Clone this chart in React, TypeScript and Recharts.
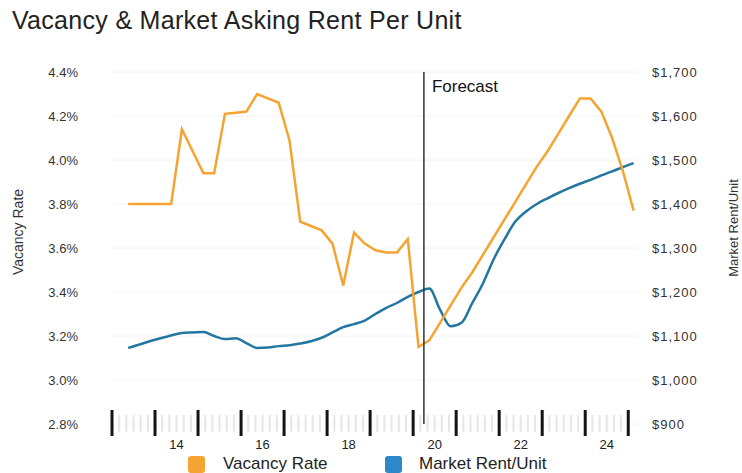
import React from "react";
import { LineChart, Line, XAxis, YAxis, CartesianGrid, ReferenceLine } from "recharts";

// quarterly series, 2013 Q2 .. 2025 Q1
const quarters = [
  "2013 Q2", "2013 Q3", "2013 Q4", "2014 Q1", "2014 Q2", "2014 Q3", "2014 Q4",
  "2015 Q1", "2015 Q2", "2015 Q3", "2015 Q4", "2016 Q1", "2016 Q2", "2016 Q3", "2016 Q4",
  "2017 Q1", "2017 Q2", "2017 Q3", "2017 Q4", "2018 Q1", "2018 Q2", "2018 Q3", "2018 Q4",
  "2019 Q1", "2019 Q2", "2019 Q3", "2019 Q4", "2020 Q1", "2020 Q2", "2020 Q3", "2020 Q4",
  "2021 Q1", "2021 Q2", "2021 Q3", "2021 Q4", "2022 Q1", "2022 Q2", "2022 Q3", "2022 Q4",
  "2023 Q1", "2023 Q2", "2023 Q3", "2023 Q4", "2024 Q1", "2024 Q2", "2024 Q3", "2024 Q4",
  "2025 Q1",
];

const vacancyRate = [
  3.8, 3.8, 3.8, 3.8, 3.8, 4.14, 4.04, 3.94, 3.94, 4.21, 4.215, 4.22,
  4.3, 4.28, 4.26, 4.09, 3.72, 3.7, 3.68, 3.62, 3.43, 3.67, 3.62, 3.59,
  3.58, 3.58, 3.64, 3.15, 3.18, 3.26, 3.34, 3.42, 3.49, 3.57, 3.65, 3.73,
  3.81, 3.89, 3.97, 4.04, 4.12, 4.2, 4.28, 4.28, 4.22, 4.1, 3.95, 3.77,
];

const rentPerUnit = [
  1073, 1080, 1088, 1095, 1101, 1107, 1108, 1109, 1100, 1093, 1095, 1084,
  1073, 1074, 1077, 1079, 1083, 1088, 1096, 1108, 1120, 1127, 1135, 1150,
  1164, 1175, 1189, 1200, 1208, 1160, 1122, 1130, 1175, 1220, 1275, 1320,
  1360, 1383, 1400, 1413, 1425, 1436, 1446, 1455, 1465, 1474, 1484, 1493,
];

const vacancyTicks = [2.8, 3.0, 3.2, 3.4, 3.6, 3.8, 4.0, 4.2, 4.4];
const rentTicks = [900, 1000, 1100, 1200, 1300, 1400, 1500, 1600, 1700];
const yearLabels = ["14", "16", "18", "20", "22", "24"];
const lastActual = "2020 Q1";

const series = [
  { name: "Vacancy Rate", color: "#F5A431" },
  { name: "Market Rent/Unit", color: "#2C88C6" },
];

const quarterTime = (q: string) => {
  const [y, qq] = q.split(" Q");
  return Number(y) + (Number(qq) - 1) * 0.25 + 0.125;
};

const data = quarters.map((q, i) => ({
  t: quarterTime(q),
  vacancy: vacancyRate[i],
  rent: rentPerUnit[i],
}));

const forecastX = quarterTime(lastActual) + 0.125;
const xTicks = Array.from({ length: 73 }, (_, i) => 2013 + i / 6);
const labelAt = yearLabels.map((l) => 2000 + Number(l) + 0.5);

const font = '"Liberation Sans", Arial, Helvetica, sans-serif';

function YearTick(props: any) {
  const { x, y, payload } = props;
  const v = payload.value;
  const major = Math.abs(v - Math.round(v)) < 1e-6;
  const li = labelAt.findIndex((p) => Math.abs(p - v) < 1e-6);
  return (
    <g>
      {major ? (
        <rect x={x - 1.5} y={y - 14} width={3} height={26} fill="#141414" />
      ) : (
        <rect x={x - 1} y={y - 9} width={2} height={17} fill="#e6e6e6" />
      )}
      {li >= 0 && (
        <text x={x} y={y + 25} textAnchor="middle" fontSize={13} fill="#222" fontFamily={font}>
          {yearLabels[li]}
        </text>
      )}
    </g>
  );
}

export default function App() {
  return (
    <div style={{ position: "absolute", left: 0, top: 0, width: 742, height: 473, background: "#fff", fontFamily: font }}>
      <div style={{ position: "absolute", left: 12, top: 8, fontSize: 25, lineHeight: "24px", color: "#222", whiteSpace: "nowrap", letterSpacing: 0.3 }}>
        Vacancy &amp; Market Asking Rent Per Unit
      </div>
      <LineChart width={742} height={473} data={data} margin={{ top: 72, right: 0, bottom: 0, left: 0 }}>
        <CartesianGrid vertical={false} yAxisId="v" stroke="#f4f4f4" />
        <XAxis
          dataKey="t"
          type="number"
          domain={[2013, 2025.25]}
          ticks={xTicks}
          interval={0}
          tick={YearTick}
          axisLine={false}
          tickLine={false}
          tickSize={0}
          tickMargin={0}
          height={49}
        />
        <YAxis
          yAxisId="v"
          domain={[2.8, 4.4]}
          ticks={vacancyTicks}
          tickFormatter={(v: number) => v.toFixed(1) + "%"}
          axisLine={false}
          tickLine={false}
          tickSize={0}
          tickMargin={34}
          width={112}
          tick={{ fontSize: 13, fill: "#333", fontFamily: font }}
        />
        <YAxis
          yAxisId="r"
          orientation="right"
          domain={[900, 1700]}
          ticks={rentTicks}
          tickFormatter={(v: number) => "$" + v.toLocaleString("en-US")}
          axisLine={false}
          tickLine={false}
          tickSize={0}
          tickMargin={13}
          width={103}
          tick={{ fontSize: 13, fill: "#333", fontFamily: font, letterSpacing: 1 }}
        />
        <Line yAxisId="r" dataKey="rent" type="monotone" stroke="#23769F" strokeWidth={2.5} dot={false} isAnimationActive={false} />
        <Line yAxisId="v" dataKey="vacancy" type="linear" stroke="#F5A431" strokeWidth={2.5} dot={false} isAnimationActive={false} />
        <ReferenceLine
          yAxisId="v"
          x={forecastX}
          stroke="#333"
          strokeWidth={1.5}
          label={{ value: "Forecast", position: "insideTopLeft", offset: 8, fill: "#111", fontSize: 17, fontFamily: font }}
        />
      </LineChart>
      <div style={{ position: "absolute", left: 18, top: 232, transform: "translate(-50%, -50%) rotate(-90deg)", fontSize: 14, color: "#333", whiteSpace: "nowrap" }}>
        Vacancy Rate
      </div>
      <div style={{ position: "absolute", left: 733, top: 228, transform: "translate(-50%, -50%) rotate(-90deg)", fontSize: 13, color: "#333", whiteSpace: "nowrap" }}>
        Market Rent/Unit
      </div>
      {series.map((s, i) => (
        <div key={s.name} style={{ position: "absolute", left: i === 0 ? 188 : 385, top: 455, height: 18, display: "flex", alignItems: "center", whiteSpace: "nowrap" }}>
          <span style={{ width: 17, height: 17, borderRadius: 3, background: s.color, display: "inline-block" }} />
          <span style={{ marginLeft: i === 0 ? 18 : 17, fontSize: 17, color: "#222" }}>{s.name}</span>
        </div>
      ))}
    </div>
  );
}
